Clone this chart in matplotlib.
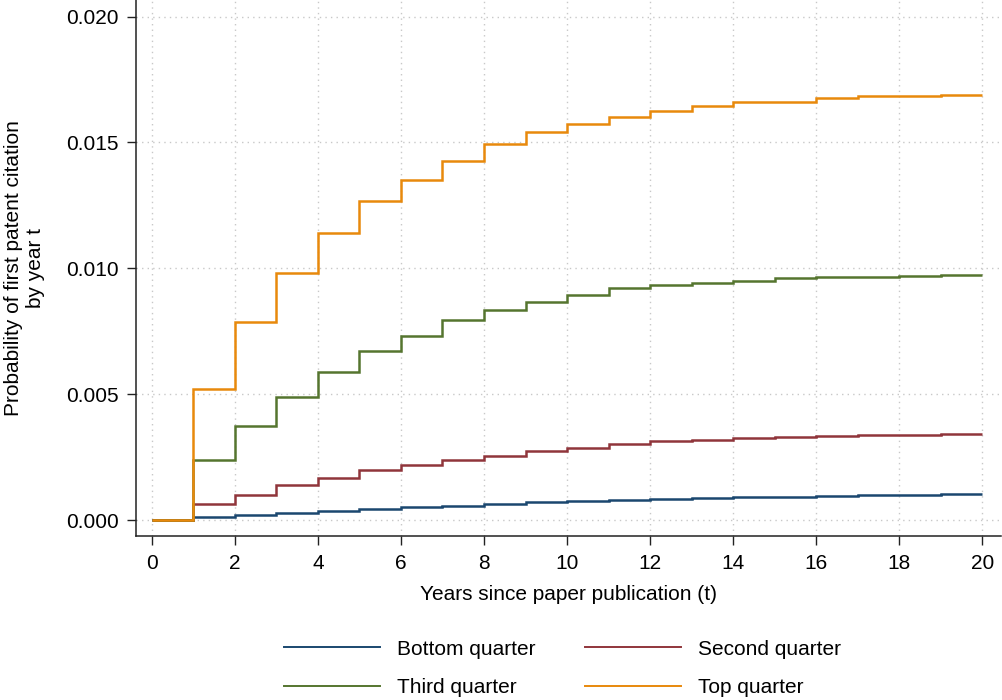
import numpy as np
from matplotlib import pyplot as plt

plt.rcParams["font.family"] = ["Liberation Sans", "DejaVu Sans"]
plt.rcParams["font.size"] = 15

# cumulative probability of first patent citation, one value per year interval [t, t+1)
years = np.arange(0, 21)
bottom_q = np.array([0.00, 0.13, 0.19, 0.28, 0.37, 0.45, 0.52, 0.57, 0.65, 0.70,
                     0.76, 0.81, 0.85, 0.89, 0.92, 0.93, 0.94, 0.98, 1.01, 1.02]) * 1e-3
second_q = np.array([0.00, 0.64, 1.01, 1.38, 1.68, 1.97, 2.17, 2.39, 2.55, 2.73,
                     2.86, 3.01, 3.13, 3.19, 3.27, 3.31, 3.34, 3.38, 3.39, 3.40]) * 1e-3
third_q = np.array([0.00, 2.37, 3.74, 4.89, 5.90, 6.72, 7.33, 7.93, 8.36, 8.68,
                    8.96, 9.20, 9.33, 9.43, 9.50, 9.60, 9.64, 9.67, 9.69, 9.73]) * 1e-3
top_q = np.array([0.00, 5.22, 7.88, 9.83, 11.42, 12.68, 13.51, 14.28, 14.93, 15.41,
                  15.74, 16.02, 16.27, 16.43, 16.59, 16.61, 16.76, 16.83, 16.84, 16.87]) * 1e-3

labels = ["Bottom quarter", "Second quarter", "Third quarter", "Top quarter"]
colors = ["#1a476f", "#90353b", "#55752f", "#e8890c"]
x_ticks = np.arange(0, 21, 2)
y_ticks = [0.000, 0.005, 0.010, 0.015, 0.020]

fig = plt.figure(figsize=(10.03, 7.0), dpi=100)
ax = fig.add_axes([0.1356, 0.234, 0.8624, 0.766])

handles = []
for vals, lab, col in zip([bottom_q, second_q, third_q, top_q], labels, colors):
    ax.stairs(vals, years, baseline=None, fill=False, color=col, linewidth=1.8)
    handles.append(plt.Line2D([], [], color=col, linewidth=1.4, label=lab))

ax.set_xlim(-0.38, 20.45)
ax.set_ylim(-0.00064, 0.02066)
ax.set_xticks(x_ticks)
ax.set_yticks(y_ticks)
ax.set_yticklabels([f"{v:.3f}" for v in y_ticks])

ax.grid(True, color="#c8c8c8", linestyle=(0, (1, 3)), linewidth=1.0)
ax.set_axisbelow(True)
for side in ["top", "right"]:
    ax.spines[side].set_visible(False)
for side in ["left", "bottom"]:
    ax.spines[side].set_linewidth(1.1)
    ax.spines[side].set_color("#222222")
ax.tick_params(direction="out", length=6.5, width=1.0, pad=6, color="#222222")

ax.set_xlabel("Years since paper publication (t)", labelpad=9)
ax.set_ylabel("Probability of first patent citation\nby year t", labelpad=15)

# legend fills column-wise, so order the handles to read row by row
order = [0, 2, 1, 3]
fig.legend(handles=[handles[i] for i in order], loc="center", bbox_to_anchor=(0.561, 0.045),
           ncol=2, frameon=False, handlelength=4.6, handletextpad=0.8, columnspacing=2.4,
           labelspacing=0.95)

fig.savefig("out.png", dpi=100)
